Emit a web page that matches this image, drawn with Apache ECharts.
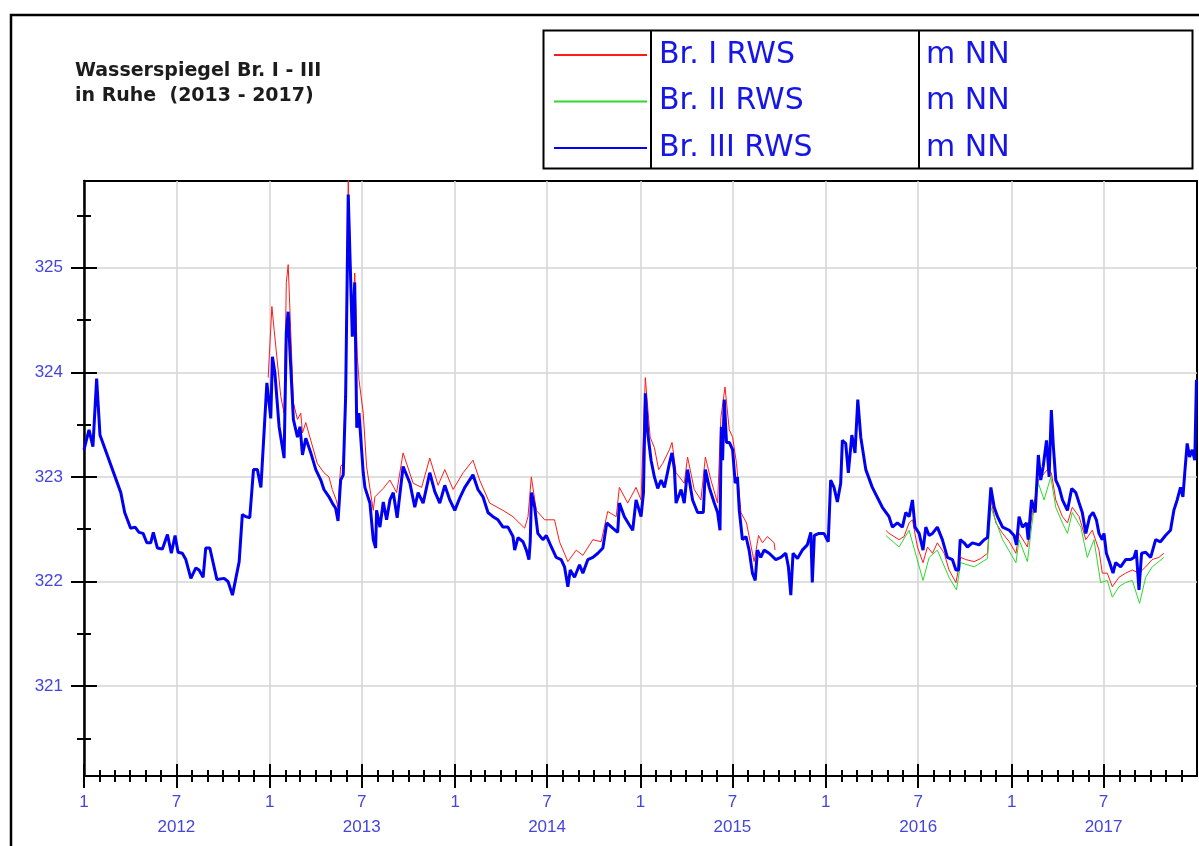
<!DOCTYPE html>
<html>
<head>
<meta charset="utf-8">
<script src="https://cdn.jsdelivr.net/npm/echarts@6/dist/echarts.min.js"></script>
<style>
  html, body { margin: 0; padding: 0; background: #ffffff; }
  #chart { width: 1199px; height: 846px; }
</style>
</head>
<body>
<div id="chart"></div>
<script>
// Water levels (m NN) of wells Br. I - III, sampled as [decimal year, level]
const brIII = [
  [2012.000,323.26],[2012.027,323.45],[2012.048,323.29],[2012.068,323.94],[2012.086,323.40],
  [2012.198,322.85],[2012.219,322.66],[2012.251,322.51],[2012.275,322.52],[2012.296,322.47],
  [2012.318,322.46],[2012.338,322.37],[2012.359,322.37],[2012.373,322.47],[2012.395,322.32],
  [2012.422,322.31],[2012.449,322.45],[2012.470,322.27],[2012.490,322.44],[2012.506,322.28],
  [2012.529,322.27],[2012.548,322.21],[2012.575,322.03],[2012.602,322.13],[2012.619,322.11],
  [2012.641,322.04],[2012.655,322.32],[2012.677,322.32],[2012.715,322.02],[2012.754,322.03],
  [2012.775,322.00],[2012.799,321.87],[2012.835,322.19],[2012.852,322.64],[2012.871,322.62],
  [2012.892,322.61],[2012.912,323.07],[2012.933,323.07],[2012.952,322.90],[2012.984,323.90],
  [2013.005,323.56],[2013.014,324.15],[2013.027,324.00],[2013.050,323.48],[2013.077,323.18],
  [2013.089,324.39],[2013.099,324.58],[2013.108,324.22],[2013.127,323.55],[2013.149,323.38],
  [2013.163,323.48],[2013.176,323.21],[2013.194,323.37],[2013.221,323.23],[2013.248,323.07],
  [2013.275,322.97],[2013.292,322.88],[2013.319,322.81],[2013.337,322.75],[2013.355,322.70],
  [2013.368,322.58],[2013.382,322.97],[2013.396,323.02],[2013.409,323.77],[2013.423,325.70],
  [2013.436,324.89],[2013.445,324.34],[2013.458,324.86],[2013.469,323.47],[2013.481,323.61],
  [2013.504,323.04],[2013.513,322.90],[2013.540,322.75],[2013.558,322.40],[2013.571,322.32],
  [2013.576,322.68],[2013.594,322.52],[2013.612,322.76],[2013.630,322.59],[2013.648,322.78],
  [2013.666,322.85],[2013.687,322.61],[2013.719,323.10],[2013.756,322.94],[2013.782,322.71],
  [2013.800,322.85],[2013.827,322.75],[2013.863,323.04],[2013.890,322.86],[2013.917,322.75],
  [2013.944,322.92],[2013.971,322.78],[2013.998,322.68],[2014.025,322.80],[2014.052,322.90],
  [2014.096,323.02],[2014.123,322.88],[2014.150,322.81],[2014.177,322.66],[2014.204,322.62],
  [2014.231,322.59],[2014.258,322.52],[2014.285,322.52],[2014.312,322.43],[2014.321,322.30],
  [2014.339,322.42],[2014.366,322.38],[2014.384,322.30],[2014.398,322.21],[2014.405,322.38],
  [2014.412,322.85],[2014.429,322.71],[2014.446,322.46],[2014.473,322.40],[2014.492,322.44],
  [2014.519,322.33],[2014.545,322.23],[2014.572,322.21],[2014.590,322.14],[2014.608,321.95],
  [2014.621,322.11],[2014.644,322.04],[2014.671,322.16],[2014.689,322.08],[2014.716,322.21],
  [2014.743,322.23],[2014.770,322.27],[2014.797,322.32],[2014.818,322.56],[2014.850,322.51],
  [2014.877,322.47],[2014.886,322.75],[2014.913,322.62],[2014.940,322.54],[2014.958,322.49],
  [2014.976,322.78],[2015.003,322.62],[2015.016,322.85],[2015.026,323.80],[2015.039,323.42],
  [2015.057,323.16],[2015.075,323.00],[2015.093,322.89],[2015.111,322.97],[2015.129,322.90],
  [2015.156,323.13],[2015.170,323.23],[2015.183,323.07],[2015.192,322.75],[2015.219,322.88],
  [2015.236,322.75],[2015.254,323.07],[2015.281,322.78],[2015.308,322.66],[2015.339,322.66],
  [2015.350,323.07],[2015.371,322.90],[2015.398,322.75],[2015.416,322.66],[2015.429,322.49],
  [2015.436,323.48],[2015.443,323.16],[2015.452,323.74],[2015.464,323.33],[2015.479,323.33],
  [2015.497,323.26],[2015.511,322.94],[2015.523,323.00],[2015.533,322.68],[2015.550,322.40],
  [2015.569,322.43],[2015.586,322.30],[2015.604,322.08],[2015.619,322.01],[2015.631,322.30],
  [2015.649,322.23],[2015.667,322.30],[2015.694,322.27],[2015.730,322.21],[2015.757,322.23],
  [2015.784,322.27],[2015.798,322.14],[2015.811,321.87],[2015.823,322.27],[2015.847,322.22],
  [2015.873,322.30],[2015.900,322.35],[2015.919,322.47],[2015.927,321.99],[2015.938,322.44],
  [2015.963,322.46],[2015.990,322.46],[2016.013,322.38],[2016.026,322.97],[2016.044,322.90],
  [2016.062,322.76],[2016.080,322.94],[2016.089,323.35],[2016.107,323.32],[2016.121,323.04],
  [2016.140,323.40],[2016.157,323.23],[2016.172,323.74],[2016.188,323.38],[2016.215,323.07],
  [2016.250,322.90],[2016.304,322.71],[2016.340,322.62],[2016.358,322.52],[2016.385,322.56],
  [2016.412,322.52],[2016.430,322.66],[2016.448,322.62],[2016.466,322.78],[2016.480,322.52],
  [2016.502,322.46],[2016.523,322.30],[2016.538,322.52],[2016.556,322.44],[2016.574,322.46],
  [2016.600,322.52],[2016.627,322.40],[2016.654,322.23],[2016.681,322.21],[2016.700,322.11],
  [2016.714,322.11],[2016.723,322.40],[2016.744,322.37],[2016.762,322.33],[2016.789,322.37],
  [2016.825,322.35],[2016.852,322.40],[2016.870,322.42],[2016.888,322.90],[2016.906,322.71],
  [2016.924,322.62],[2016.951,322.52],[2016.987,322.49],[2017.013,322.44],[2017.026,322.35],
  [2017.040,322.62],[2017.058,322.52],[2017.080,322.56],[2017.089,322.40],[2017.107,322.78],
  [2017.127,322.66],[2017.144,323.21],[2017.157,322.97],[2017.170,323.10],[2017.188,323.35],
  [2017.202,323.00],[2017.214,323.64],[2017.225,323.29],[2017.238,322.97],[2017.256,322.90],
  [2017.274,322.78],[2017.301,322.68],[2017.324,322.89],[2017.346,322.85],[2017.364,322.75],
  [2017.381,322.66],[2017.400,322.46],[2017.421,322.62],[2017.439,322.66],[2017.457,322.59],
  [2017.471,322.46],[2017.489,322.40],[2017.498,322.46],[2017.511,322.27],[2017.529,322.18],
  [2017.547,322.08],[2017.561,322.18],[2017.588,322.14],[2017.615,322.21],[2017.642,322.21],
  [2017.660,322.23],[2017.672,322.30],[2017.687,321.92],[2017.701,322.27],[2017.723,322.28],
  [2017.750,322.23],[2017.777,322.40],[2017.803,322.38],[2017.830,322.44],[2017.857,322.49],
  [2017.875,322.68],[2017.893,322.78],[2017.911,322.90],[2017.924,322.81],[2017.934,323.04],
  [2017.947,323.32],[2017.960,323.19],[2017.974,323.26],[2017.988,323.16],[2017.997,323.93]
];

// Br. I: two recorded periods
const brIa = [
  [2012.991,323.95],[2013.011,324.63],[2013.023,324.41],[2013.059,323.77],[2013.077,323.61],
  [2013.089,324.86],[2013.099,325.03],[2013.109,324.57],[2013.127,323.71],[2013.149,323.55],
  [2013.167,323.61],[2013.176,323.42],[2013.194,323.52],[2013.221,323.35],[2013.256,323.13],
  [2013.292,323.04],[2013.319,323.00],[2013.337,322.88],[2013.358,322.78],[2013.368,322.71],
  [2013.382,323.10],[2013.396,323.13],[2013.409,323.93],[2013.423,325.86],[2013.436,325.00],
  [2013.445,324.47],[2013.458,324.95],[2013.472,324.15],[2013.481,323.93],[2013.504,323.61],
  [2013.522,323.10],[2013.558,322.68],[2013.567,322.81],[2013.612,322.89],[2013.648,322.97],
  [2013.684,322.85],[2013.719,323.23],[2013.773,322.94],[2013.819,322.90],[2013.863,323.18],
  [2013.908,322.92],[2013.944,323.07],[2013.989,322.88],[2014.043,323.04],[2014.096,323.16],
  [2014.132,322.97],[2014.186,322.75],[2014.258,322.68],[2014.312,322.62],[2014.375,322.51],
  [2014.393,322.62],[2014.411,323.00],[2014.438,322.68],[2014.483,322.59],[2014.536,322.59],
  [2014.563,322.38],[2014.608,322.19],[2014.653,322.30],[2014.689,322.25],[2014.743,322.40],
  [2014.788,322.38],[2014.823,322.67],[2014.869,322.62],[2014.886,322.90],[2014.931,322.75],
  [2014.976,322.90],[2015.003,322.78],[2015.026,323.95],[2015.052,323.38],[2015.075,323.28],
  [2015.098,323.07],[2015.120,323.13],[2015.156,323.26],[2015.170,323.33],[2015.192,323.04],
  [2015.236,322.94],[2015.254,323.19],[2015.290,322.88],[2015.326,322.78],[2015.350,323.19],
  [2015.380,322.97],[2015.416,322.75],[2015.434,323.57],[2015.456,323.86],[2015.479,323.45],
  [2015.497,323.38],[2015.518,323.13],[2015.542,322.66],[2015.572,322.56],[2015.604,322.27],
  [2015.613,322.19],[2015.637,322.44],[2015.658,322.37],[2015.685,322.43],[2015.721,322.37],
  [2015.726,322.30]
];
const brIb = [
  [2016.323,322.49],[2016.340,322.46],[2016.394,322.40],[2016.421,322.43],[2016.448,322.56],
  [2016.466,322.59],[2016.493,322.33],[2016.523,322.18],[2016.547,322.33],[2016.574,322.27],
  [2016.600,322.37],[2016.637,322.27],[2016.663,322.11],[2016.700,321.99],[2016.726,322.23],
  [2016.753,322.21],[2016.798,322.19],[2016.834,322.22],[2016.870,322.27],[2016.888,322.78],
  [2016.915,322.56],[2016.951,322.46],[2016.987,322.38],[2017.023,322.27],[2017.040,322.46],
  [2017.085,322.33],[2017.112,322.66],[2017.144,322.97],[2017.193,323.07],[2017.214,323.04],
  [2017.238,322.78],[2017.274,322.62],[2017.301,322.56],[2017.327,322.71],[2017.364,322.62],
  [2017.400,322.40],[2017.435,322.49],[2017.471,322.30],[2017.489,322.08],[2017.516,322.08],
  [2017.543,321.95],[2017.579,322.04],[2017.615,322.08],[2017.651,322.11],[2017.687,322.08],
  [2017.723,322.14],[2017.758,322.21],[2017.794,322.23],[2017.821,322.27]
];

// Br. II
const brII = [
  [2016.323,322.44],[2016.394,322.33],[2016.448,322.49],[2016.523,322.01],[2016.556,322.23],
  [2016.600,322.30],[2016.663,322.04],[2016.703,321.92],[2016.726,322.18],[2016.798,322.14],
  [2016.870,322.22],[2016.888,322.71],[2016.951,322.40],[2017.023,322.18],[2017.040,322.40],
  [2017.085,322.19],[2017.112,322.59],[2017.144,322.94],[2017.175,322.78],[2017.211,323.00],
  [2017.238,322.71],[2017.274,322.56],[2017.301,322.46],[2017.327,322.66],[2017.373,322.52],
  [2017.408,322.23],[2017.444,322.40],[2017.480,321.99],[2017.516,322.01],[2017.543,321.85],
  [2017.579,321.95],[2017.615,321.99],[2017.651,322.01],[2017.690,321.79],[2017.723,322.04],
  [2017.758,322.14],[2017.794,322.19],[2017.821,322.23]
];

const seriesNames = ['Br. I RWS', 'Br. II RWS', 'Br. III RWS'];
const unitLabel = 'm NN';
const titleLines = ['Wasserspiegel Br. I - III', 'in Ruhe  (2013 - 2017)'];

// Axis range and tick positions
const yMin = 320.14, yMax = 325.83;
const yLabelTicks = [321, 322, 323, 324, 325];
const yHalfTicks = [320.5, 321.5, 322.5, 323.5, 324.5, 325.5];
const firstYear = 2012, lastYear = 2017;
const labelMonths = [1, 7];

// decimal year -> epoch milliseconds (used as the numeric x value)
function yearToTime(y) {
  const yr = Math.floor(y);
  const s = Date.UTC(yr, 0, 1), e = Date.UTC(yr + 1, 0, 1);
  return s + (y - yr) * (e - s);
}
const toSeries = arr => arr.map(p => [yearToTime(p[0]), p[1]]);

const majorTicks = [], minorTicks = [];
for (let y = firstYear; y <= lastYear; y++) {
  for (let m = 0; m < 12; m++) {
    const t = Date.UTC(y, m, 1);
    minorTicks.push(t);
    if (labelMonths.includes(m + 1)) majorTicks.push(t);
  }
}
const xMin = Date.UTC(firstYear, 0, 1), xMax = Date.UTC(lastYear + 1, 0, 1);

const labelBlue = '#4545dd';
const textBlue = '#1616e6';
const axisFont = 'Liberation Sans, Arial, sans-serif';
const wideFont = 'DejaVu Sans, Verdana, sans-serif';

function xAxisCfg(ticks, len, inside, main) {
  return {
    type: 'value', min: xMin, max: xMax, position: 'bottom', gridIndex: 0,
    axisLine: { show: main, lineStyle: { color: '#000', width: 2 } },
    axisTick: { show: true, customValues: ticks, inside: inside, length: len,
                lineStyle: { color: '#000', width: 2 } },
    axisLabel: main ? {
      show: true, customValues: majorTicks, margin: 14, color: labelBlue,
      fontFamily: axisFont, fontSize: 17, lineHeight: 25, align: 'center',
      formatter: v => {
        const d = new Date(v);
        const m = d.getUTCMonth() + 1;
        return m === 7 ? m + '\n' + d.getUTCFullYear() : String(m);
      }
    } : { show: false },
    splitLine: { show: main, lineStyle: { color: '#d4d4d4', width: 1.5 } }
  };
}
function yAxisCfg(ticks, len, inside, main) {
  return {
    type: 'value', min: yMin, max: yMax, position: 'left', gridIndex: 0,
    axisLine: { show: main, lineStyle: { color: '#000', width: 2.5 } },
    axisTick: { show: true, customValues: ticks, inside: inside, length: len,
                lineStyle: { color: '#000', width: 2 } },
    axisLabel: main ? {
      show: true, customValues: yLabelTicks, margin: 21, color: labelBlue,
      fontFamily: axisFont, fontSize: 17, formatter: v => String(v)
    } : { show: false },
    splitLine: { show: main, lineStyle: { color: '#d4d4d4', width: 1.5 } }
  };
}

const chart = echarts.init(document.getElementById('chart'), null, { renderer: 'canvas' });

const lineBase = { type: 'line', showSymbol: false, symbol: 'none', animation: false,
                   xAxisIndex: 0, yAxisIndex: 0, clip: true };

// legend rows: vertical centres of the three entries
const rowY = [55, 101.5, 148];

chart.setOption({
  animation: false,
  backgroundColor: '#ffffff',
  title: {
    text: titleLines.join('\n'), left: 70, top: 54,
    textStyle: { fontFamily: wideFont, fontSize: 19, fontWeight: 'bold', color: '#1c1c1c', lineHeight: 25 }
  },
  legend: {
    orient: 'vertical', left: 548, top: rowY[0] - 15 - 5, itemWidth: 93, itemHeight: 2,
    itemGap: 16.5, data: seriesNames, selectedMode: false,
    itemStyle: { opacity: 0 },
    textStyle: { fontFamily: wideFont, fontSize: 30, color: textBlue, padding: [0, 0, 0, 7] }
  },
  grid: { left: 84, right: 2, top: 181, bottom: 70, show: true, borderColor: '#000', borderWidth: 2,
          backgroundColor: 'transparent' },
  xAxis: [
    xAxisCfg(majorTicks, 12, false, true),
    xAxisCfg(majorTicks, 12, true, false),
    xAxisCfg(minorTicks, 6, false, false),
    xAxisCfg(minorTicks, 6, true, false)
  ],
  yAxis: [
    yAxisCfg(yLabelTicks, 13, false, true),
    yAxisCfg(yLabelTicks, 13, true, false),
    yAxisCfg(yHalfTicks, 7, false, false),
    yAxisCfg(yHalfTicks, 7, true, false)
  ],
  series: [
    Object.assign({}, lineBase, { name: seriesNames[0], data: toSeries(brIa), z: 3,
      lineStyle: { color: '#ff1a1a', width: 1 }, itemStyle: { color: '#ff1a1a' } }),
    Object.assign({}, lineBase, { name: seriesNames[0], data: toSeries(brIb), z: 3,
      lineStyle: { color: '#ff1a1a', width: 1 }, itemStyle: { color: '#ff1a1a' } }),
    Object.assign({}, lineBase, { name: seriesNames[1], data: toSeries(brII), z: 4,
      lineStyle: { color: '#2ed82e', width: 1 }, itemStyle: { color: '#2ed82e' } }),
    Object.assign({}, lineBase, { name: seriesNames[2], data: toSeries(brIII), z: 5,
      lineStyle: { color: '#0000f2', width: 3 }, itemStyle: { color: '#0000f2' } })
  ],
  graphic: [
    // outer frame
    { type: 'rect', silent: true, z: 100,
      shape: { x: 11, y: 15, width: 1300, height: 1000 },
      style: { fill: 'none', stroke: '#000', lineWidth: 2.5 } },
    // legend table
    { type: 'rect', silent: true, z: 100,
      shape: { x: 543.5, y: 30.5, width: 649, height: 138 },
      style: { fill: 'none', stroke: '#000', lineWidth: 2 } },
    { type: 'line', silent: true, z: 100, shape: { x1: 651, y1: 30.5, x2: 651, y2: 168.5 },
      style: { stroke: '#000', lineWidth: 2 } },
    { type: 'line', silent: true, z: 100, shape: { x1: 919, y1: 30.5, x2: 919, y2: 168.5 },
      style: { stroke: '#000', lineWidth: 2 } }
  ].concat(rowY.map(y => ({
    type: 'text', silent: true, z: 100, x: 926, y: y,
    style: { text: unitLabel, fill: textBlue, font: '30px ' + wideFont, verticalAlign: 'middle' }
  })))
});
</script>
</body>
</html>
